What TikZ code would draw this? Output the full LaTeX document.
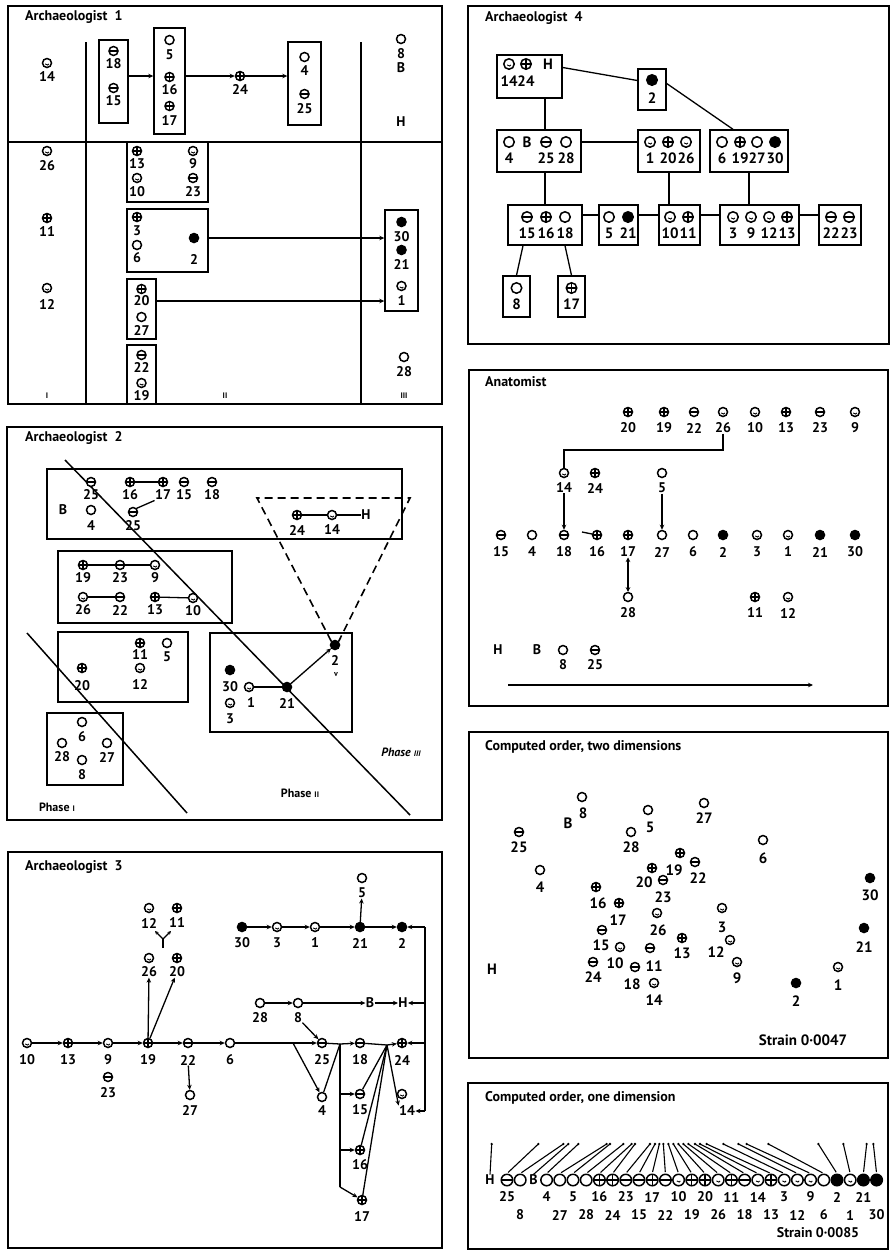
\documentclass[tikz,border=0pt]{standalone}
\usepackage{fontspec}
\setmainfont{PT Sans}
\usetikzlibrary{arrows.meta,fit}
\tikzset{
  sym/.style={circle, draw, line width=1.5pt, minimum size=9pt, inner sep=0pt, fill=white},
  symO/.style={sym},
  symP/.style={sym, path picture={\draw[line width=1.25pt] (path picture bounding box.north) -- (path picture bounding box.south) (path picture bounding box.west) -- (path picture bounding box.east);}},
  symM/.style={sym, path picture={\draw[line width=1.25pt] (path picture bounding box.west) -- (path picture bounding box.east);}},
  symF/.style={sym, fill=black},
  symD/.style={sym, path picture={
     \fill (path picture bounding box.center) ++(-1.6pt,1.1pt) circle[radius=1.05pt];
     \fill (path picture bounding box.center) ++(1.6pt,1.1pt) circle[radius=1.05pt];
     \draw[line width=0.9pt] (path picture bounding box.center) ++(-1.8pt,-0.9pt) arc[start angle=200,end angle=340,radius=1.9pt];}},
  lbl/.style={inner sep=0.3pt, font=\bfseries\fontsize{14}{14}\selectfont},
  ttl/.style={anchor=west, inner sep=0pt, font=\bfseries\fontsize{14}{14}\selectfont},
  panel/.style={draw, line width=1.8pt},
  bx/.style={draw, line width=1.4pt, inner sep=0pt},
  ln/.style={line width=1.3pt},
  arr/.style={line width=1.3pt, -{Stealth[length=5pt,width=4.5pt]}},
  arrs/.style={line width=1.2pt, -{Stealth[length=3.5pt,width=3.5pt]}},
  arrB/.style={line width=1.3pt, {Stealth[length=4.5pt,width=4.5pt]}-{Stealth[length=4.5pt,width=4.5pt]}},
  dsh/.style={line width=1.6pt, dash pattern=on 8pt off 5pt},
  rom/.style={inner sep=0pt, font=\bfseries\fontsize{8}{8}\selectfont},
  phs/.style={inner sep=0pt, font=\bfseries\fontsize{12}{12}\selectfont},
}
\newcommand\mySym[6]{\node[sym#1] (#2) at (#3,#4) {}; \node[lbl] (#2l) at (#3,#6) {#5};}
\newcommand\mySymL[7]{\node[sym#1] (#2) at (#3,#4) {}; \node[lbl] (#2l) at (#6,#7) {#5};}
\newcommand\myTxt[4]{\node[lbl] (#1) at (#2,#3) {#4};}
\newcommand\myBox[5]{\node[bx, fit={(#2,#3) (#4,#5)}] (#1) {};}
\begin{document}
\begin{tikzpicture}[x=1pt,y=-1pt]
\useasboundingbox (0,0) rectangle (891,1251);
\fill[white] (0,0) rectangle (891,1251);

% ================= Archaeologist 1 =================
\draw[panel] (8,6) rectangle (442,404);
\node[ttl] (a1t) at (25,17) {Archaeologist\ \ 1};
\draw[ln] (8,142) -- (442,142);
\draw[ln] (86,42) -- (86,404);
\draw[ln] (361,42) -- (361,404);
\mySym{D}{a1n14}{47}{63}{14}{77}
\myBox{a1b18}{99}{40}{128}{123}
\mySym{M}{a1n18}{113.5}{51}{18}{64}
\mySym{M}{a1n15}{113.5}{88}{15}{101}
\myBox{a1b5}{154}{28}{185}{134}
\mySym{O}{a1n5}{169.5}{40}{5}{55}
\mySym{P}{a1n16}{169.5}{77}{16}{90}
\mySym{P}{a1n17}{169.5}{106}{17}{121}
\mySym{P}{a1n24}{240}{76}{24}{89}
\myBox{a1b4}{288}{42}{321}{125}
\mySym{O}{a1n4}{304.5}{57}{4}{71}
\mySym{M}{a1n25}{304.5}{94}{25}{109}
\mySym{O}{a1n8}{401}{39}{8}{54}
\myTxt{a1nB}{401}{68}{B}
\myTxt{a1nH}{401}{122}{H}
\draw[arr] (a1b18.east |- a1n24) -- (a1b5.west |- a1n24);
\draw[arr] (a1b5.east |- a1n24) -- (a1n24);
\draw[arr] (a1n24) -- (a1b4.west |- a1n24);
\mySym{D}{a1n26}{47}{151}{26}{166}
\myBox{a1b13}{127}{142}{208}{202}
\mySym{P}{a1n13}{137}{151}{13}{164}
\mySym{D}{a1n10}{137}{178}{10}{192}
\mySym{D}{a1n9}{193}{151}{9}{164}
\mySym{M}{a1n23}{193}{178}{23}{192}
\mySym{P}{a1n11}{47}{218}{11}{232}
\myBox{a1b3}{127}{209}{208}{272}
\mySym{P}{a1n3}{137}{217}{3}{231}
\mySym{O}{a1n6}{137}{245}{6}{258}
\mySym{F}{a1n2}{194}{238}{2}{259}
\myBox{a1b30}{385}{210}{418}{311}
\mySym{F}{a1n30}{401.5}{222}{30}{237}
\mySym{F}{a1n21}{401.5}{250}{21}{264}
\mySym{D}{a1n1}{401.5}{286}{1}{301}
\mySym{D}{a1n12}{47}{288}{12}{304}
\myBox{a1b20}{127}{279}{156}{339}
\mySym{P}{a1n20}{141.5}{289}{20}{301}
\mySym{O}{a1n27}{141.5}{317}{27}{330}
\myBox{a1b22}{127}{345}{156}{404}
\mySym{M}{a1n22}{141.5}{355}{22}{367}
\mySym{D}{a1n19}{141.5}{383}{19}{396}
\mySym{O}{a1n28}{404}{357}{28}{372}
\draw[arr] (a1b3.east |- a1n2) -- (a1b30.west |- a1n2);
\draw[arr] (a1b20.east |- a1n20l) -- (a1b30.west |- a1n20l);
\node[rom] (a1r1) at (47,396) {I};
\node[rom] (a1r2) at (225,396) {II};
\node[rom] (a1r3) at (404,396) {III};

% ================= Archaeologist 2 =================
\draw[panel] (7,427) rectangle (442,820);
\node[ttl] (a2t) at (25,438) {Archaeologist\ \ 2};
\coordinate (a2d1s) at (65,460); \coordinate (a2d1e) at (410,815);
\coordinate (a2d2s) at (27,633); \coordinate (a2d2e) at (187,813);
\draw[line width=1.5pt] (a2d1s) -- (a2d1e);
\draw[line width=1.5pt] (a2d2s) -- (a2d2e);
\myBox{a2bA}{47}{469}{402}{539}
\myBox{a2bB}{58}{551}{232}{623}
\myBox{a2bC}{58}{632}{188}{702}
\myBox{a2bD}{47}{713}{123}{785}
\myBox{a2bE}{210}{633}{352}{732}
\mySym{M}{a2n25}{91}{482}{25}{495}
\mySym{P}{a2n16}{130}{482}{16}{495}
\mySym{P}{a2n17}{163}{482}{17}{495}
\mySym{M}{a2n15}{184}{482}{15}{495}
\mySym{M}{a2n18}{212}{482}{18}{495}
\myTxt{a2nB}{63}{510}{B}
\mySym{O}{a2n4}{91}{510}{4}{526}
\mySym{M}{a2n25b}{133}{512}{25}{526}
\draw[ln] (a2n16) -- (a2n17);
\draw[ln] (a2n25b.north east) -- (a2n17l.south west);
\mySym{P}{a2n24}{297}{515}{24}{530}
\mySym{D}{a2n14}{332}{515}{14}{530}
\myTxt{a2nH}{366}{515}{H}
\draw[ln] (a2n24) -- (a2n14);
\draw[ln] (a2n14) -- (a2nH);
\mySym{P}{a2n19}{83}{565}{19}{578}
\mySym{M}{a2n23}{120}{565}{23}{578}
\mySym{D}{a2n9}{155}{565}{9}{578}
\mySym{D}{a2n26}{83}{597}{26}{610}
\mySym{M}{a2n22}{120}{597}{22}{610}
\mySym{P}{a2n13}{155}{597}{13}{610}
\mySym{D}{a2n10}{193}{598}{10}{611}
\draw[ln] (a2n19) -- (a2n23);
\draw[ln] (a2n23) -- (a2n9);
\draw[ln] (a2n26) -- (a2n22);
\draw[ln] (a2n13) -- (a2n10);
\mySym{P}{a2n11}{140}{643}{11}{655}
\mySym{D}{a2n12}{140}{668}{12}{684}
\mySym{O}{a2n5}{167}{643}{5}{657}
\mySym{P}{a2n20}{82}{668}{20}{686}
\mySym{O}{a2n6}{82}{722}{6}{737}
\mySym{O}{a2n28}{62}{743}{28}{757}
\mySym{O}{a2n27}{107}{743}{27}{757}
\mySym{O}{a2n8}{82}{760}{8}{775}
\mySym{F}{a2n30}{230}{670}{30}{687}
\mySymL{D}{a2n1}{249}{687}{1}{251}{703}
\mySym{D}{a2n3}{230}{703}{3}{719}
\mySym{F}{a2n21}{287}{687}{21}{703}
\mySym{F}{a2n2}{335}{645}{2}{660}
\node[inner sep=0pt, font=\bfseries\fontsize{8}{8}\selectfont] (a2v) at (336,675) {v};
\draw[ln] (a2n1) -- (a2n21);
\draw[arr] (a2n21) -- (a2n2);
\coordinate (a2f1) at (257,498); \coordinate (a2f2) at (410,498);
\draw[dsh] (a2n2.north west) -- (a2f1) -- (a2f2) -- (a2n2.north east);
\node[phs, font=\bfseries\itshape\fontsize{12}{12}\selectfont] (a2p3) at (401,752) {Phase {\fontsize{8}{8}\selectfont III}};
\node[phs] (a2p2) at (300,793) {Phase {\fontsize{8}{8}\selectfont II}};
\node[phs] (a2p1) at (57,807) {Phase {\fontsize{8}{8}\selectfont I}};

% ================= Archaeologist 3 =================
\draw[panel] (8,852) rectangle (442,1248);
\node[ttl] (a3t) at (25,867) {Archaeologist\ \ 3};
\mySym{O}{a3n5}{362}{878}{5}{893}
\mySym{D}{a3n12}{149}{908}{12}{923}
\mySym{P}{a3n11}{177}{908}{11}{923}
\mySym{F}{a3n30}{242}{927}{30}{943}
\mySym{D}{a3n3}{277}{927}{3}{943}
\mySym{D}{a3n1}{315}{927}{1}{943}
\mySym{F}{a3n21}{360}{927}{21}{943}
\mySym{F}{a3n2}{402}{927}{2}{943}
\mySym{D}{a3n26}{149}{958}{26}{972}
\mySym{P}{a3n20}{177}{958}{20}{972}
\mySym{O}{a3n28}{260}{1003}{28}{1018}
\mySym{O}{a3n8}{298}{1003}{8}{1018}
\myTxt{a3nB}{370}{1003}{B}
\myTxt{a3nH}{403}{1003}{H}
\mySym{D}{a3n10}{27}{1043}{10}{1060}
\mySym{P}{a3n13}{68}{1043}{13}{1060}
\mySym{D}{a3n9}{108}{1043}{9}{1060}
\mySym{P}{a3n19}{148}{1043}{19}{1060}
\mySym{M}{a3n22}{188}{1043}{22}{1060}
\mySym{O}{a3n6}{230}{1043}{6}{1060}
\mySym{M}{a3n25}{322}{1043}{25}{1060}
\mySym{M}{a3n18}{360}{1043}{18}{1060}
\mySym{P}{a3n24}{402}{1043}{24}{1060}
\mySym{M}{a3n23}{108}{1077}{23}{1093}
\mySym{O}{a3n27}{190}{1095}{27}{1110}
\mySym{O}{a3n4}{322}{1097}{4}{1111}
\mySym{M}{a3n15}{360}{1094}{15}{1110}
\mySymL{D}{a3n14}{402}{1094}{14}{407}{1111}
\mySym{P}{a3n16}{360}{1150}{16}{1165}
\mySym{P}{a3n17}{362}{1200}{17}{1216}
\draw[arr] (a3n30) -- (a3n3);
\draw[arr] (a3n3) -- (a3n1);
\draw[arr] (a3n1) -- (a3n21);
\draw[arr] (a3n21) -- (a3n2);
\draw[arr] (a3n21) -- (a3n5l);
\draw[arr] (a3n28) -- (a3n8);
\draw[arr] (a3n8) -- (a3nB);
\draw[arr] (a3nB) -- (a3nH);
\draw[arr] (a3n8l) -- (a3n25);
\draw[arr] (a3n10) -- (a3n13);
\draw[arr] (a3n13) -- (a3n9);
\draw[arr] (a3n9) -- (a3n19);
\draw[arr] (a3n19) -- (a3n22);
\draw[arr] (a3n22) -- (a3n6);
\draw[arr] (a3n22l) -- (a3n27);
\draw[arr] (a3n19) -- (a3n26l);
\draw[arr] (a3n19) -- (a3n20l);
\coordinate (a3ys) at (163,948); \coordinate (a3y) at (163,939);
\coordinate (a3ya) at (155,931); \coordinate (a3yb) at (171,931);
\draw[ln] (a3ys) -- (a3y);
\draw[arrs] (a3y) -- (a3ya);
\draw[arrs] (a3y) -- (a3yb);
\coordinate (a3s1) at (293,1043);
\draw[ln] (a3n6) -- (a3s1);
\draw[arr] (a3s1) -- (a3n25);
\draw[arr] (a3s1) -- (a3n4);
\coordinate (a3h1) at (340,1044);
\coordinate (a3v2) at (340,1187);
\draw[ln] (a3n25) -- (a3h1);
\draw[ln] (a3n4) -- (a3h1);
\draw[arr] (a3h1) -- (a3n18);
\draw[ln] (a3h1) -- (a3v2);
\draw[arr] (a3h1 |- a3n15) -- (a3n15);
\draw[arr] (a3h1 |- a3n16) -- (a3n16);
\draw[arr] (a3v2) -- (a3n17);
\coordinate (a3h2) at (387,1045);
\draw[ln] (a3n18) -- (a3h2);
\draw[ln] (a3n15) -- (a3h2);
\draw[ln] (a3n16) -- (a3h2);
\draw[ln] (a3n17) -- (a3h2);
\draw[arr] (a3h2) -- (a3n24);
\draw[arr] (a3h2) -- (a3n14l.north west);
\coordinate (a3bt) at (425,927); \coordinate (a3bb) at (425,1111);
\draw[ln] (a3bt) -- (a3bb);
\draw[arr] (a3bt) -- (a3n2);
\draw[arr] (a3bt |- a3nH) -- (a3nH);
\draw[arr] (a3bt |- a3n24) -- (a3n24);
\draw[arr] (a3bb) -- (a3n14l);

% ================= Archaeologist 4 =================
\draw[panel] (468,6) rectangle (889,344);
\node[ttl] (a4t) at (485,18) {Archaeologist\ \ 4};
\begin{scope}[sym/.append style={minimum size=10.5pt}, lbl/.append style={font=\bfseries\fontsize{15}{15}\selectfont}]
\myBox{a4bTL}{497}{55}{562}{98}
\mySym{D}{a4n14}{509}{64}{14}{81}
\mySym{P}{a4n24}{526}{64}{24}{81}
\myTxt{a4nH}{548}{64}{H}
\myBox{a4b2}{638}{69}{666}{110}
\mySym{F}{a4n2}{652}{80}{2}{98}
\myBox{a4bM1}{497}{130}{581}{172}
\mySym{O}{a4n4}{509}{142}{4}{158}
\myTxt{a4nB}{527}{142}{B}
\mySym{M}{a4n25}{546}{142}{25}{158}
\mySym{O}{a4n28}{566}{142}{28}{158}
\myBox{a4bM2}{638}{130}{700}{172}
\mySym{D}{a4n1}{650}{142}{1}{158}
\mySym{P}{a4n20}{668}{142}{20}{158}
\mySym{D}{a4n26}{686}{142}{26}{158}
\myBox{a4bM3}{710}{130}{788}{172}
\mySym{O}{a4n6}{722}{142}{6}{158}
\mySym{P}{a4n19}{740}{142}{19}{158}
\mySym{O}{a4n27}{757}{142}{27}{158}
\mySym{F}{a4n30}{775}{142}{30}{158}
\myBox{a4bB1}{508}{205}{582}{245}
\mySym{M}{a4n15}{527}{217}{15}{233}
\mySym{P}{a4n16}{546}{217}{16}{233}
\mySym{O}{a4n18}{565}{217}{18}{233}
\myBox{a4bB2}{599}{205}{638}{245}
\mySym{O}{a4n5}{609}{217}{5}{233}
\mySym{F}{a4n21}{628}{217}{21}{233}
\myBox{a4bB3}{659}{205}{700}{245}
\mySym{D}{a4n10}{670}{217}{10}{233}
\mySym{P}{a4n11}{688}{217}{11}{233}
\myBox{a4bB4}{720}{205}{799}{245}
\mySym{D}{a4n3}{733}{217}{3}{233}
\mySym{D}{a4n9}{751}{217}{9}{233}
\mySym{D}{a4n12}{769}{217}{12}{233}
\mySym{P}{a4n13}{787}{217}{13}{233}
\myBox{a4bB5}{819}{205}{861}{245}
\mySym{M}{a4n22}{831}{217}{22}{233}
\mySym{M}{a4n23}{849}{217}{23}{233}
\myBox{a4b8}{503}{276}{530}{317}
\mySym{O}{a4n8}{516.5}{288}{8}{304}
\myBox{a4b17}{558}{276}{585}{317}
\mySym{P}{a4n17}{571.5}{288}{17}{304}
\end{scope}
\draw[ln] ([yshift=9pt]a4bTL.east) -- ([yshift=9pt]a4b2.west);
\draw[ln] ([yshift=6pt]a4b2.east) -- ([xshift=-16pt]a4bM3.north);
\draw[ln] (a4bTL.south -| a4bB1.center) -- (a4bM1.north -| a4bB1.center);
\draw[ln] (a4bM1.south -| a4bB1.center) -- (a4bB1.north);
\draw[ln] ([yshift=9pt]a4bM1.east) -- ([yshift=9pt]a4bM2.west);
\draw[ln] (a4bM2.south) -- (a4bM2.south |- a4bB3.north);
\draw[ln] (a4bM3.south) -- (a4bM3.south |- a4bB4.north);
\draw[ln] ([yshift=10pt]a4bB1.east) -- ([yshift=10pt]a4bB2.west);
\draw[ln] ([yshift=10pt]a4bB2.east) -- ([yshift=10pt]a4bB3.west);
\draw[ln] ([yshift=10pt]a4bB3.east) -- ([yshift=10pt]a4bB4.west);
\draw[ln] ([yshift=10pt]a4bB4.east) -- ([yshift=10pt]a4bB5.west);
\draw[ln] ([xshift=-22pt]a4bB1.south) -- (a4b8.north);
\draw[ln] ([xshift=20pt]a4bB1.south) -- (a4b17.north);

% ================= Anatomist =================
\draw[panel] (469,370) rectangle (888,706);
\node[ttl] (a5t) at (485,382) {Anatomist};
\mySym{P}{a5n20}{628}{412}{20}{428}
\mySym{P}{a5n19}{664}{412}{19}{428}
\mySym{M}{a5n22}{694}{412}{22}{428}
\mySym{D}{a5n26}{723}{412}{26}{428}
\mySym{D}{a5n10}{755}{412}{10}{428}
\mySym{P}{a5n13}{786}{412}{13}{428}
\mySym{M}{a5n23}{820}{412}{23}{428}
\mySym{D}{a5n9}{855}{412}{9}{428}
\mySym{D}{a5n14}{564}{473}{14}{488}
\mySym{P}{a5n24}{595}{473}{24}{488}
\mySym{O}{a5n5}{662}{473}{5}{488}
\mySym{M}{a5n15}{501}{535}{15}{552}
\mySym{O}{a5n4}{532}{535}{4}{552}
\mySym{M}{a5n18}{564}{535}{18}{552}
\mySym{P}{a5n16}{597}{535}{16}{552}
\mySym{P}{a5n17}{628}{535}{17}{552}
\mySym{O}{a5n27}{662}{535}{27}{552}
\mySym{O}{a5n6}{693}{535}{6}{552}
\mySym{F}{a5n2}{723}{535}{2}{552}
\mySym{D}{a5n3}{757}{535}{3}{552}
\mySym{D}{a5n1}{788}{535}{1}{552}
\mySym{F}{a5n21}{820}{535}{21}{552}
\mySym{F}{a5n30}{855}{535}{30}{552}
\mySym{O}{a5n28}{628}{597}{28}{613}
\mySym{P}{a5n11}{755}{597}{11}{613}
\mySym{D}{a5n12}{788}{597}{12}{613}
\myTxt{a5nH}{498}{650}{H}
\myTxt{a5nB}{537}{650}{B}
\mySym{O}{a5n8}{563}{650}{8}{665}
\mySym{M}{a5n25}{595}{650}{25}{665}
\coordinate (a5k) at (564,450);
\draw[ln] (a5n26l.south) |- (a5k) -- (a5n14.north);
\draw[arr] (a5n14l) -- (a5n18);
\draw[arr] (a5n5l) -- (a5n27);
\coordinate (a5t) at (582,532);
\draw[ln] (a5t) -- (a5n16);
\draw[arrB] (a5n17l) -- (a5n28);
\coordinate (a5as) at (508,685); \coordinate (a5ae) at (813,685);
\draw[arr] (a5as) -- (a5ae);

% ================= Computed order, two dimensions =================
\draw[panel] (469,732) rectangle (888,1058);
\node[ttl] (b2t) at (485,747) {Computed order, two dimensions};
\begin{scope}[lbl/.append style={font=\bfseries\fontsize{15}{15}\selectfont}]
\mySymL{O}{b2n8}{582}{797}{8}{583}{813}
\myTxt{b2nB}{568}{823}{B}
\mySymL{O}{b2n5}{648}{810}{5}{650}{827}
\mySymL{O}{b2n27}{704}{803}{27}{704}{818}
\mySymL{M}{b2n25}{519}{832}{25}{519}{847}
\mySymL{O}{b2n28}{631}{832}{28}{631}{847}
\mySymL{O}{b2n6}{763}{840}{6}{763}{858}
\mySymL{O}{b2n4}{540}{870}{4}{540}{887}
\mySymL{P}{b2n19}{680}{853}{19}{674}{870}
\mySymL{M}{b2n22}{695}{862}{22}{698}{878}
\mySymL{P}{b2n20}{652}{868}{20}{644}{882}
\mySymL{M}{b2n23}{663}{880}{23}{663}{897}
\mySymL{F}{b2n30}{870}{878}{30}{870}{895}
\mySymL{P}{b2n16}{596}{887}{16}{598}{903}
\mySymL{P}{b2n17}{619}{903}{17}{618}{920}
\mySymL{D}{b2n26}{657}{913}{26}{658}{930}
\mySymL{D}{b2n3}{722}{908}{3}{722}{927}
\mySymL{F}{b2n21}{864}{928}{21}{864}{947}
\mySymL{M}{b2n15}{602}{930}{15}{601}{945}
\mySymL{D}{b2n10}{620}{947}{10}{615}{963}
\mySymL{P}{b2n13}{682}{938}{13}{682}{953}
\mySymL{D}{b2n12}{730}{940}{12}{716}{952}
\mySymL{M}{b2n11}{650}{948}{11}{654}{966}
\mySymL{D}{b2n9}{737}{962}{9}{737}{978}
\mySymL{M}{b2n24}{593}{962}{24}{593}{977}
\mySymL{M}{b2n18}{635}{967}{18}{632}{984}
\mySymL{D}{b2n14}{654}{983}{14}{654}{1000}
\myTxt{b2nH}{492}{969}{H}
\mySymL{F}{b2n2}{796}{983}{2}{796}{1001}
\mySymL{D}{b2n1}{838}{967}{1}{838}{985}
\node[lbl] (b2s) at (803,1040) {Strain 0·0047};
\end{scope}

% ================= Computed order, one dimension =================
\draw[panel] (468,1083) rectangle (888,1249);
\node[ttl] (b1t) at (485,1098) {Computed order, one dimension};
\begin{scope}[sym/.append style={minimum size=11.5pt}]
\foreach \kk/\ty/\nm/\ly/\tp in {0/M/25/1197/175, 1/O/8/1215/250, 3/O/4/1197/295, 4/O/27/1215/380, 5/O/5/1197/390, 6/O/28/1215/430, 7/P/16/1197/455, 8/P/24/1215/465, 9/M/23/1197/510, 10/M/15/1215/525, 11/P/17/1197/538, 12/M/22/1215/550, 13/D/10/1197/565, 14/P/19/1215/580, 15/P/20/1197/595, 16/D/26/1215/610, 17/P/11/1197/625, 18/M/18/1215/645, 19/D/14/1197/660, 20/P/13/1215/680, 21/D/3/1197/730, 22/D/12/1215/775, 23/D/9/1197/800, 24/O/6/1215/865, 25/F/2/1197/1015, 26/D/1/1215/1090, 27/F/21/1197/1160, 28/F/30/1215/1180}{
  \coordinate (c1t\nm) at ({480+\tp/3},1144);
  \node[sym\ty] (c1n\nm) at ({507+13.2*\kk},1180) {};
  \node[lbl] (c1l\nm) at ({507+13.2*\kk},\ly) {\nm};
  \fill (c1t\nm) circle[radius=1.3pt];
  \draw[line width=1.1pt, shorten >=1.5pt] (c1t\nm) -- (c1n\nm.north);
}
\end{scope}
\node[lbl] (c1nH) at (490,1180) {H};
\coordinate (c1tH) at (491.7,1144);
\fill (c1tH) circle[radius=1.3pt];
\draw[line width=1.1pt] (c1tH) -- (c1nH.north);
\node[lbl] (c1nB) at (533.4,1180) {B};
\coordinate (c1tB) at (568.3,1144);
\fill (c1tB) circle[radius=1.3pt];
\draw[line width=1.1pt] (c1tB) -- (c1nB.north);
\node[lbl] (c1s) at (818,1233) {Strain 0·0085};
\end{tikzpicture}
\end{document}
